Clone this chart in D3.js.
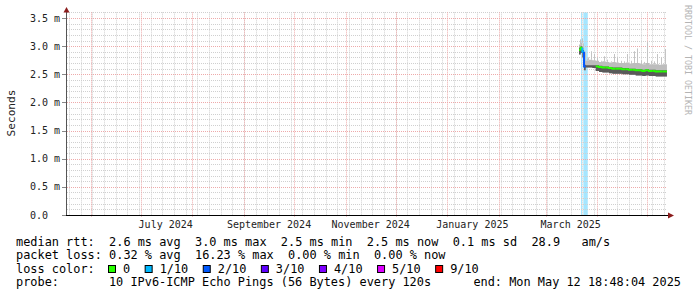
<!DOCTYPE html>
<html>
<head>
<meta charset="utf-8">
<title>SmokePing</title>
<script src="https://cdn.jsdelivr.net/npm/d3@7"></script>
<style>
  body { margin: 0; background: #fff; }
  text { font-family: "DejaVu Sans Mono", monospace; }
  .legend text { font-size: 11.9px; white-space: pre; fill: #000; }
</style>
</head>
<body>
<div id="chart"></div>
<script>
// sample times (local) and round-trip values in ms
var dates = ["2025-03-21T00:00","2025-03-22T00:00","2025-03-23T00:00","2025-03-24T00:00","2025-03-25T00:00",
  "2025-03-26T00:00","2025-03-27T00:00","2025-03-29T00:00","2025-03-31T00:00","2025-04-02T00:00",
  "2025-04-04T00:00","2025-04-06T00:00","2025-04-08T00:00","2025-04-10T00:00","2025-04-12T00:00",
  "2025-04-14T00:00","2025-04-16T00:00","2025-04-18T00:00","2025-04-20T00:00","2025-04-22T00:00",
  "2025-04-24T00:00","2025-04-26T00:00","2025-04-28T00:00","2025-04-30T00:00","2025-05-02T00:00",
  "2025-05-04T00:00","2025-05-06T00:00","2025-05-08T00:00","2025-05-10T00:00","2025-05-12T18:00"];
var median = [2.93, 2.97, 2.90, 2.64, null, null, null, null, 2.64, 2.63,
  2.62, 2.62, 2.61, 2.60, 2.60, 2.60, 2.59, 2.59, 2.58, 2.58,
  2.57, 2.57, 2.56, 2.57, 2.56, 2.56, 2.55, 2.55, 2.55, 2.54];
var loss = [0, 0, 1, 2, 0, 0, 0, 0, 0, 0,
  0, 0, 0, 0, 0, 0, 0, 0, 0, 0,
  0, 0, 0, 0, 0, 0, 0, 0, 0, 0];
var pingMax = [3.12, 3.14, 3.05, 2.90, 2.78, 2.80, 2.91, 2.86, 2.80, 2.74,
  2.82, 2.76, 2.73, 2.86, 2.80, 2.74, 2.73, 2.86, 2.74, 2.91,
  2.96, 2.75, 2.72, 3.07, 2.74, 2.73, 2.86, 2.80, 2.95, 2.72];
var pingP90 = [3.03, 3.06, 2.98, 2.78, 2.74, 2.74, 2.76, 2.75, 2.74, 2.72,
  2.73, 2.72, 2.71, 2.72, 2.71, 2.70, 2.70, 2.71, 2.69, 2.70,
  2.70, 2.69, 2.68, 2.70, 2.68, 2.68, 2.68, 2.67, 2.68, 2.67];
var pingP60 = [2.97, 3.00, 2.93, 2.67, 2.66, 2.66, 2.66, 2.66, 2.66, 2.65,
  2.64, 2.64, 2.63, 2.62, 2.62, 2.62, 2.61, 2.61, 2.60, 2.60,
  2.59, 2.59, 2.58, 2.59, 2.58, 2.58, 2.57, 2.57, 2.57, 2.56];
var pingMin = [2.85, 2.88, 2.80, 2.57, 2.62, 2.62, 2.62, 2.61, 2.56, 2.54,
  2.53, 2.53, 2.52, 2.51, 2.51, 2.51, 2.50, 2.50, 2.49, 2.49,
  2.48, 2.48, 2.47, 2.48, 2.47, 2.47, 2.46, 2.46, 2.46, 2.45];

// periods with packet loss (background bars)
var lossStart = ["2025-03-22T04:00", "2025-03-23T14:00"];
var lossEnd = ["2025-03-22T16:00", "2025-03-26T06:00"];
var lossLevel = [1, 1];

var yTicks = [0, 0.5, 1.0, 1.5, 2.0, 2.5, 3.0, 3.5];
var monthLabels = ["July 2024", "September 2024", "November 2024", "January 2025", "March 2025"];
var monthDates = ["2024-07-01", "2024-09-01", "2024-11-01", "2025-01-01", "2025-03-01"];

var lossSteps = [0, 1, 2, 3, 4, 5, 9];
var lossNames = ["0", "1/10", "2/10", "3/10", "4/10", "5/10", "9/10"];
var lossColors = ["#26ff00", "#00b8ff", "#0059ff", "#5e00ff", "#7e00ff", "#dd00ff", "#ff0000"];

var rttStats = [["2.6", "avg"], ["3.0", "max"], ["2.5", "min"], ["2.5", "now"], ["0.1", "sd"]];
var lossStats = [["0.32", "avg"], ["16.23", "max"], ["0.00", "min"], ["0.00", "now"]];
var amPerS = "28.9";
var probeText = "10 IPv6-ICMP Echo Pings (56 Bytes) every 120s";
var endText = "end: Mon May 12 18:48:04 2025";

var width = 697, height = 297;
var endTime = new Date(2025, 4, 12, 18, 48, 4),
    startTime = d3.timeDay.offset(endTime, -360);

var x = d3.scaleTime().domain([startTime, endTime]).range([67, 667]);
var y = d3.scaleLinear().domain([0, 3.5]).range([215, 18]);
var yMax = 3.6;

var parseT = d3.timeParse("%Y-%m-%dT%H:%M"),
    parseD = d3.timeParse("%Y-%m-%d");

var svg = d3.select('#chart').append('svg')
  .attr('width', width)
  .attr('height', height);
svg.append('rect').attr('width', width).attr('height', height).attr('fill', '#fff');

var pts = dates.map(function(d, i) {
  return {t: parseT(d), med: median[i], loss: loss[i],
    max: pingMax[i], p90: pingP90[i], p60: pingP60[i], min: pingMin[i]};
});

function lossColor(n) {
  var c = lossColors[0];
  lossSteps.forEach(function(s, i) { if (n >= s) c = lossColors[i]; });
  return c;
}
function px(v) { return Math.round(v) + 0.5; }

// loss background bars
var plotTop = y(yMax), plotBottom = y(0);
lossStart.forEach(function(s, i) {
  var x0 = x(parseT(s)), x1 = x(parseT(lossEnd[i]));
  svg.append('rect')
    .attr('x', x0).attr('width', Math.max(1, x1 - x0))
    .attr('y', plotTop).attr('height', plotBottom - plotTop)
    .attr('fill', lossColor(lossLevel[i]))
    .attr('fill-opacity', 0.35);
});

// grid
var grid = svg.append('g');
var minorY = d3.range(1, 37).map(function(k) { return k / 10; })
  .filter(function(v) { return Math.round(v * 10) % 5 !== 0; });
grid.selectAll('line.hmin').data(minorY).enter().append('line')
  .attr('x1', 67).attr('x2', 667)
  .attr('y1', function(d) { return px(y(d)); })
  .attr('y2', function(d) { return px(y(d)); })
  .attr('stroke', '#d0d0d0').attr('stroke-dasharray', '1,1');
var weeks = d3.timeSunday.range(startTime, endTime);
grid.selectAll('line.vmin').data(weeks).enter().append('line')
  .attr('x1', function(d) { return px(x(d)); })
  .attr('x2', function(d) { return px(x(d)); })
  .attr('y1', plotTop).attr('y2', plotBottom)
  .attr('stroke', '#d0d0d0').attr('stroke-dasharray', '1,1');
grid.selectAll('line.hmaj').data(yTicks.slice(1)).enter().append('line')
  .attr('x1', 67).attr('x2', 667)
  .attr('y1', function(d) { return px(y(d)); })
  .attr('y2', function(d) { return px(y(d)); })
  .attr('stroke', '#eeaaaa').attr('stroke-dasharray', '1,1');
var months = d3.timeMonth.range(startTime, endTime);
grid.selectAll('line.vmaj').data(months).enter().append('line')
  .attr('x1', function(d) { return px(x(d)); })
  .attr('x2', function(d) { return px(x(d)); })
  .attr('y1', plotTop).attr('y2', plotBottom + 2)
  .attr('stroke', '#eeaaaa').attr('stroke-dasharray', '1,1');

// smoke
function band(lo, hi) {
  return d3.area()
    .x(function(d) { return x(d.t); })
    .y0(function(d) { return y(d[lo]); })
    .y1(function(d) { return y(d[hi]); })
    .curve(d3.curveStepAfter);
}
// single slow pings as thin spikes
svg.selectAll('line.spike').data(pts.slice(0, -1)).enter().append('line')
  .attr('x1', function(d, i) { return px((x(d.t) + x(pts[i + 1].t)) / 2); })
  .attr('x2', function(d, i) { return px((x(d.t) + x(pts[i + 1].t)) / 2); })
  .attr('y1', function(d) { return y(d.p90); })
  .attr('y2', function(d) { return y(d.max); })
  .attr('stroke', '#c4c4c4');
svg.append('path').datum(pts).attr('d', band('min', 'p90')).attr('fill', '#bdbdbd');
svg.append('path').datum(pts).attr('d', band('min', 'p60')).attr('fill', '#5a5a5a');

// median, coloured by loss
for (var i = 0; i < pts.length - 1; i++) {
  if (pts[i].med == null) continue;
  var d = pts[i], path = d3.path();
  var xa = x(d.t), xb = x(pts[i + 1].t);
  if (i > 0 && pts[i - 1].med != null) {
    path.moveTo(xa, y(pts[i - 1].med));
    path.lineTo(xa, y(d.med));
  } else {
    path.moveTo(xa, y(d.med));
  }
  path.lineTo(xb, y(d.med));
  svg.append('path').attr('d', path.toString())
    .attr('fill', 'none').attr('stroke', lossColor(d.loss)).attr('stroke-width', 2);
}

// axes
svg.append('line').attr('x1', 66.5).attr('x2', 66.5).attr('y1', 216).attr('y2', 10)
  .attr('stroke', '#555');
svg.append('path').attr('d', 'M63.5,12.5L66.5,7L69.5,12.5Z').attr('fill', '#8b1c1c');
svg.append('line').attr('x1', 62).attr('x2', 669).attr('y1', 215.5).attr('y2', 215.5)
  .attr('stroke', '#000');
svg.append('path').attr('d', 'M668,212.5L674,215.5L668,218.5Z').attr('fill', '#8b1c1c');

svg.selectAll('line.ytick').data(yTicks).enter().append('line')
  .attr('x1', 62).attr('x2', 66)
  .attr('y1', function(d) { return px(y(d)); })
  .attr('y2', function(d) { return px(y(d)); })
  .attr('stroke', '#888');

svg.selectAll('text.ylab').data(yTicks).enter().append('text')
  .attr('x', 30)
  .attr('y', function(d) { return y(d) + 3.5; })
  .style('font-size', '10px')
  .attr('fill', '#222')
  .text(function(d) { return d === 0 ? '0.0' : d.toFixed(1) + ' m'; });

svg.selectAll('text.xlab').data(monthDates).enter().append('text')
  .attr('x', function(d) { return x(d3.timeDay.offset(parseD(d), 15)); })
  .attr('y', 228)
  .attr('text-anchor', 'middle')
  .style('font-size', '10px')
  .attr('fill', '#222')
  .text(function(d, i) { return monthLabels[i]; });

svg.append('text')
  .attr('transform', 'translate(15,113) rotate(-90)')
  .attr('text-anchor', 'middle')
  .style('font-size', '11.1px')
  .attr('fill', '#222')
  .text('Seconds');

svg.append('text')
  .attr('transform', 'translate(685,5) rotate(90)')
  .style('font-size', '8.3px')
  .attr('fill', '#b4b4b4')
  .text('RRDTOOL / TOBI OETIKER');

// legend
var leg = svg.append('g').attr('class', 'legend');
var line1 = 'median rtt:  ' + rttStats.map(function(s) { return s[0] + ' ms ' + s[1]; }).join('  ') +
  '  ' + amPerS + '   am/s';
var line2 = 'packet loss: ' + lossStats.map(function(s) { return s[0] + ' % ' + s[1]; }).join('  ');
leg.append('text').attr('x', 16).attr('y', 245.5).text(line1);
leg.append('text').attr('x', 16).attr('y', 259).text(line2);
leg.append('text').attr('x', 16).attr('y', 272.5).text('loss color:');
leg.append('text').attr('x', 16).attr('y', 286).text('probe:');
leg.append('text').attr('x', 16 + 13 * 7.15).attr('y', 286).text(probeText);
leg.append('text').attr('x', 681).attr('y', 286).attr('text-anchor', 'end').text(endText);

var bx = 108.5;
lossNames.forEach(function(name, i) {
  leg.append('rect').attr('x', bx).attr('y', 265.5).attr('width', 7).attr('height', 7)
    .attr('fill', lossColors[i]).attr('stroke', '#000');
  leg.append('text').attr('x', bx + 14.5).attr('y', 272.5).text(name);
  bx = bx + 14.5 + name.length * 7.15 + 15;
});
</script>
</body>
</html>
